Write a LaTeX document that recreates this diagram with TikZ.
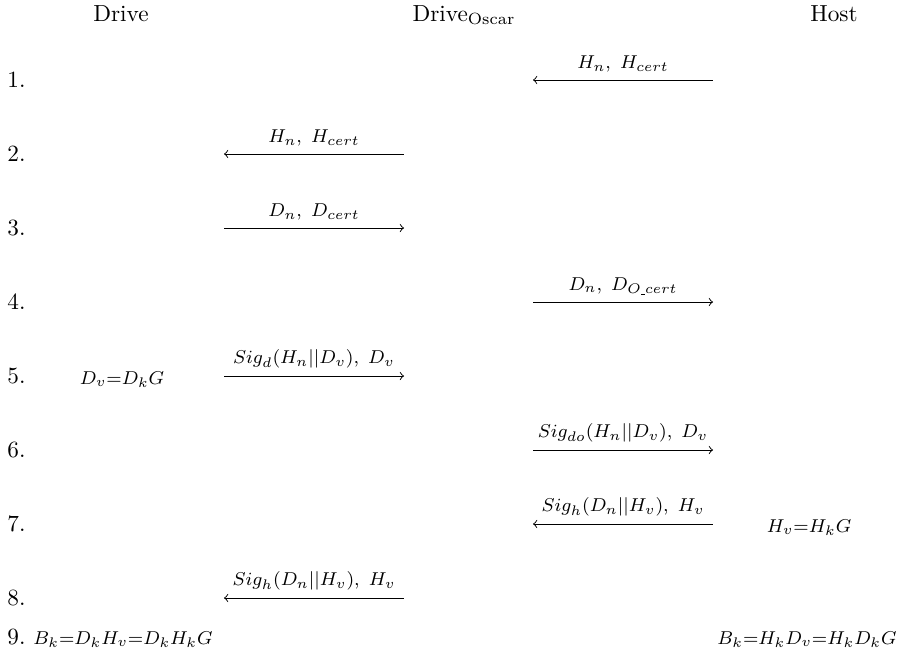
\documentclass[tikz,border=0pt]{standalone}
\usepackage{amsmath}
\usetikzlibrary{arrows.meta,positioning}
\newcommand{\msg}[1]{{\fontsize{12}{14}\selectfont$\scriptstyle #1$}}
\newcommand{\undsc}{\text{\kern.04em\rule[-0.15ex]{0.22em}{0.4pt}\kern.04em}}

\begin{document}
\begin{tikzpicture}[
    x=0.43pt, y=-0.43pt,
    >=to,
    party/.style={anchor=base, inner sep=0pt},
    rownum/.style={anchor=base west, inner sep=0pt},
    msglabel/.style={above, inner sep=3pt},
    calc/.style={anchor=base, inner sep=0pt}
    ]
    \useasboundingbox (0,0) rectangle (904,651);

    % parties
    \node[party] (drive) at (121,21) {Drive};
    \node[party] (oscar) at (464,21) {Drive$_{\text{Oscar}}$};
    \node[party] (host) at (834,21) {Host};

    % steps
    \foreach \i in {1,...,8}{
      \node[rownum] (r\i) at (7,{87+74*(\i-1)}) {\i.};
      \coordinate (a\i) at (224,{80+74*(\i-1)});
      \coordinate (b\i) at (404,{80+74*(\i-1)});
      \coordinate (c\i) at (533,{80+74*(\i-1)});
      \coordinate (d\i) at (713,{80+74*(\i-1)});
    }
    \node[rownum] (r9) at (7,644) {9.};

    % messages
    \draw[<-] (c1) -- node[msglabel]{\msg{H_n,\ H_{cert}}} (d1);
    \draw[<-] (a2) -- node[msglabel]{\msg{H_n,\ H_{cert}}} (b2);
    \draw[->] (a3) -- node[msglabel]{\msg{D_n,\ D_{cert}}} (b3);
    \draw[->] (c4) -- node[msglabel]{\msg{D_n,\ D_{O\undsc cert}}} (d4);
    \draw[->] (a5) -- node[msglabel]{\msg{Sig_d(H_n||D_v),\ D_v}} (b5);
    \draw[->] (c6) -- node[msglabel]{\msg{Sig_{do}(H_n||D_v),\ D_v}} (d6);
    \draw[<-] (c7) -- node[msglabel]{\msg{Sig_h(D_n||H_v),\ H_v}} (d7);
    \draw[<-] (a8) -- node[msglabel]{\msg{Sig_h(D_n||H_v),\ H_v}} (b8);

    % computations
    \node[calc] (dv) at (122,384) {\msg{D_v=D_kG}};
    \node[calc] (hv) at (809,532) {\msg{H_v=H_kG}};
    \node[calc, anchor=base west] (bkd) at (33,644) {\msg{B_k=D_kH_v=D_kH_kG}};
    \node[calc, anchor=base east] (bkh) at (897,644) {\msg{B_k=H_kD_v=H_kD_kG}};

\end{tikzpicture}
\end{document}
